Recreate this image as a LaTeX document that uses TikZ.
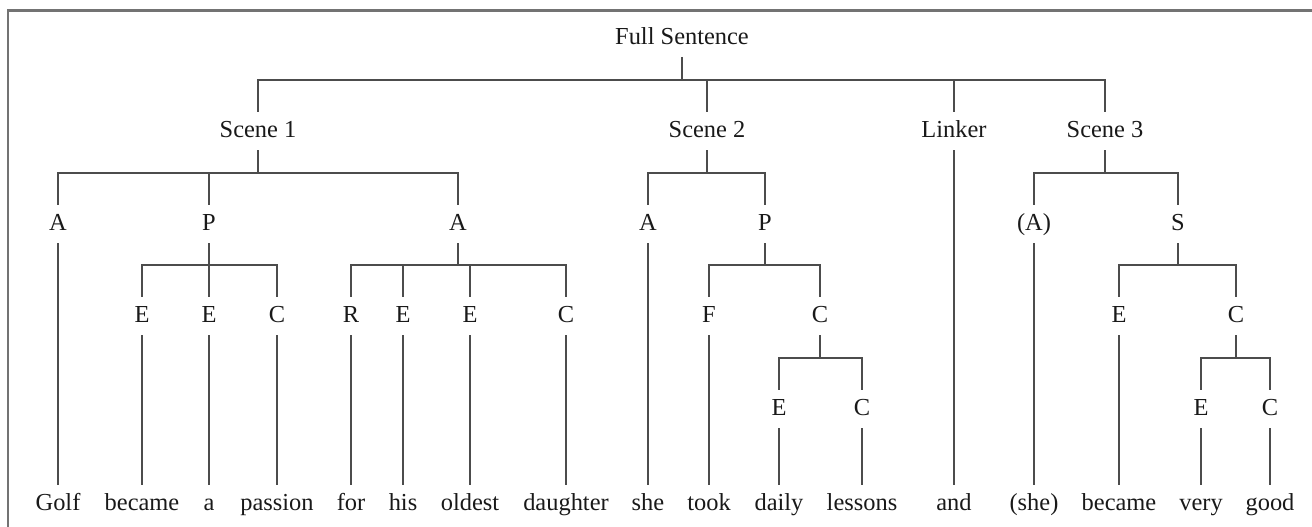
\documentclass[tikz,border=0pt]{standalone}
\usepackage{fontspec}
\setmainfont{Liberation Serif}
\tikzset{
  lab/.style={inner sep=0pt, minimum height=0.76cm, text height=0.75em, text depth=0pt,
    text=black!90, font=\fontsize{13.9}{16}\selectfont},
  stem/.style={draw=black!70, line width=0.8pt}
}

\begin{document}
\begin{tikzpicture}[x=0.02cm, y=-0.02cm]
        \useasboundingbox (0,0) rectangle (1312,527);
        \draw[black!55, line width=1.2pt] (1312,10.5) -- (8,10.5) -- (8,527);
        % labels
        \node[lab] (fs) at (682,37.5) {Full Sentence};
        \node[lab] (s1) at (258,131) {Scene 1};
        \node[lab] (s2) at (707,131) {Scene 2};
        \node[lab] (lk) at (954,131) {Linker};
        \node[lab] (s3) at (1105,131) {Scene 3};
        \foreach \n/\x/\t in {a1/58/A, p1/209/P, a2/458/A, a3/648/A, p2/765/P, a4/1034/(A), st/1178/S}{
        \node[lab] (\n) at (\x,224) {\t};
        }
        \foreach \n/\x/\t in {e1/142/E, e2/209/E, c1/277/C, r1/351/R, e3/403/E, e4/470/E, c2/566/C, f1/709/F, c3/820/C, e5/1119/E, c4/1236/C}{
        \node[lab] (\n) at (\x,316) {\t};
        }
        \foreach \n/\x/\t in {e6/779/E, c5/862/C, e7/1201/E, c6/1270/C}{
        \node[lab] (\n) at (\x,409) {\t};
        }
        \foreach \n/\x/\t in {w1/58/Golf, w2/142/became, w3/209/a, w4/277/passion, w5/351/for, w6/403/his, w7/470/oldest, w8/566/daughter, w9/648/she, w10/709/took, w11/779/daily, w12/862/lessons, w13/954/and, w14/1034/(she), w15/1119/became, w16/1201/very, w17/1270/good}{
        \node[lab] (\n) at (\x,504) {\t};
        }
        % bars
        \coordinate (b0) at (682,80);
        \coordinate (bs1) at (258,173);
        \coordinate (bs2) at (707,173);
        \coordinate (bs3) at (1105,173);
        \coordinate (bp1) at (209,265);
        \coordinate (ba2) at (458,265);
        \coordinate (bp2) at (765,265);
        \coordinate (bst) at (1178,265);
        \coordinate (bc3) at (820,358);
        \coordinate (bc4) at (1236,358);
        % branches
        \foreach \p/\b/\c in {fs/b0/{s1,s2,lk,s3}, s1/bs1/{a1,p1,a2}, s2/bs2/{a3,p2}, s3/bs3/{a4,st}, p1/bp1/{e1,e2,c1}, a2/ba2/{r1,e3,e4,c2}, p2/bp2/{f1,c3}, st/bst/{e5,c4}, c3/bc3/{e6,c5}, c4/bc4/{e7,c6}}{
        \draw[stem] (\p) -- (\b);
        \foreach \k in \c {\draw[stem] (\b) -| (\k);}
        }
        % leaves
        \foreach \a/\w in {a1/w1, e1/w2, e2/w3, c1/w4, r1/w5, e3/w6, e4/w7, c2/w8, a3/w9, f1/w10, e6/w11, c5/w12, lk/w13, a4/w14, e5/w15, e7/w16, c6/w17}{
        \draw[stem] (\a) -- (\w);
        }
      \end{tikzpicture}
\end{document}
